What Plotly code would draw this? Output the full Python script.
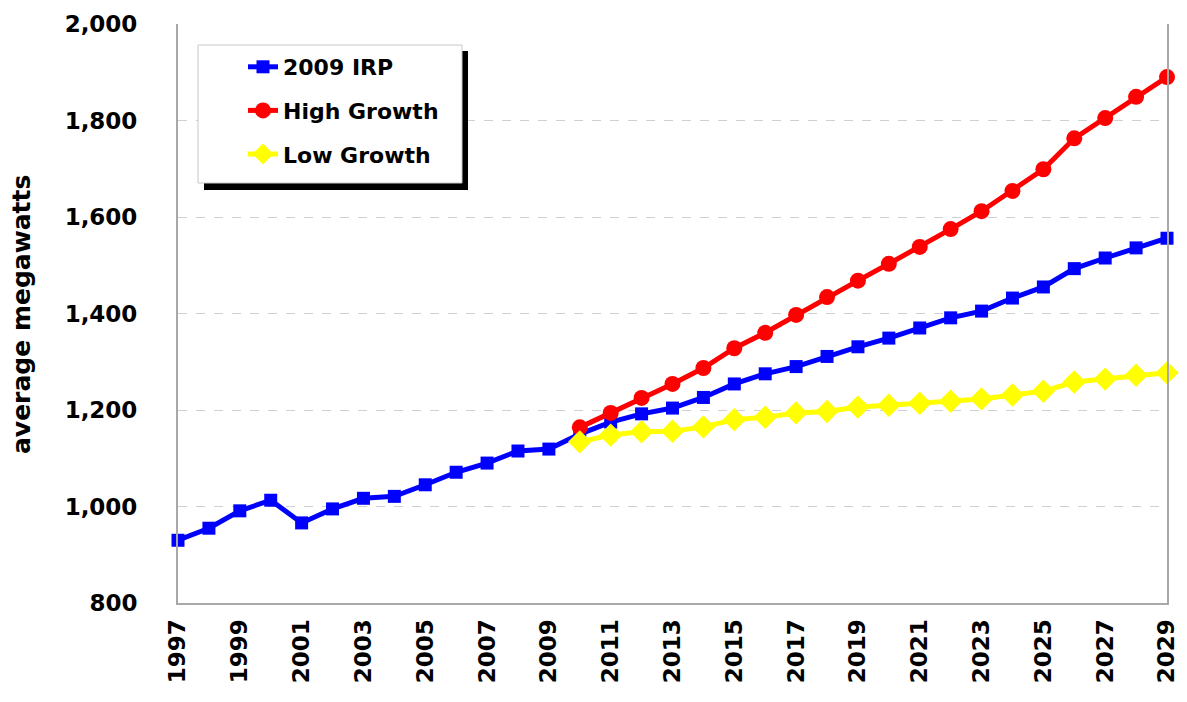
import plotly.graph_objects as go

# anos e valores (MWa)
anos = list(range(1997, 2030))
anos_cenarios = list(range(2010, 2030))

irp_2009 = [930, 955, 991, 1013, 966, 995, 1017, 1021, 1045, 1071, 1090, 1115, 1119,
            1150, 1175, 1192, 1204, 1226, 1254, 1275, 1290, 1311, 1331, 1349, 1370,
            1391, 1405, 1432, 1455, 1493, 1515, 1536, 1556]
alto = [1164, 1194, 1225, 1254, 1287, 1328, 1360, 1397, 1434, 1468, 1503, 1538,
        1575, 1612, 1654, 1699, 1763, 1805, 1849, 1890]
baixo = [1134, 1148, 1155, 1156, 1165, 1180, 1185, 1194, 1197, 1206, 1210, 1214,
         1218, 1223, 1231, 1239, 1258, 1264, 1272, 1277]

anos_ticks = list(range(1997, 2030, 2))

fonte = "DejaVu Sans"

# area do grafico em pixels (a pagina tem 8px de margem no body)
esq, topo, larg, alt = 170, 16, 989, 579


def px_x(p):
    return (p - 8 - esq) / larg


def px_y(p):
    return (topo + alt - (p - 8)) / alt


fig = go.Figure()
fig.add_trace(go.Scatter(
    x=anos, y=irp_2009, name="2009 IRP", mode="lines+markers",
    line=dict(color="#0000ff", width=5),
    marker=dict(symbol="square", size=13, color="#0000ff"),
    cliponaxis=False, legendgroup="a"
))
fig.add_trace(go.Scatter(
    x=anos_cenarios, y=alto, name="High Growth", mode="lines+markers",
    line=dict(color="#ff0000", width=5),
    marker=dict(symbol="circle", size=16, color="#ff0000"),
    cliponaxis=False, legendgroup="b"
))
fig.add_trace(go.Scatter(
    x=anos_cenarios, y=baixo, name="Low Growth", mode="lines+markers",
    line=dict(color="#ffff00", width=5),
    marker=dict(symbol="diamond", size=18, color="#ffff00"),
    cliponaxis=False, legendgroup="c"
))

# caixa da legenda com sombra
fig.add_shape(type="rect", xref="paper", yref="paper",
              x0=px_x(204), x1=px_x(468), y0=px_y(190), y1=px_y(51),
              fillcolor="black", line_width=0, layer="above")
fig.add_shape(type="rect", xref="paper", yref="paper",
              x0=px_x(198), x1=px_x(462), y0=px_y(183), y1=px_y(45),
              fillcolor="white", line=dict(color="#c8c8c8", width=1), layer="above")

# titulo do eixo y
fig.add_annotation(text="<b>average megawatts</b>", textangle=-90,
                   xref="paper", yref="paper", x=px_x(21), y=px_y(315),
                   xanchor="center", yanchor="middle",
                   showarrow=False, font=dict(family=fonte, size=25, color="black"))

fig.update_layout(
    width=1171, height=686,
    margin=dict(l=esq, r=1171 - esq - larg, t=topo, b=686 - topo - alt),
    plot_bgcolor="white", paper_bgcolor="white",
    font=dict(family=fonte, color="black"),
    legend=dict(
        x=px_x(243), y=px_y(46), xanchor="left", yanchor="top",
        bgcolor="rgba(0,0,0,0)", borderwidth=0,
        font=dict(family=fonte, size=22, color="black", weight="bold"),
        tracegroupgap=12, traceorder="grouped"
    ),
    xaxis=dict(
        range=[1997, 2029], tickvals=anos_ticks, tickangle=-90,
        tickfont=dict(family=fonte, size=23, color="black", weight="bold"),
        showgrid=False, zeroline=False, automargin=False,
        showline=True, linecolor="#a8a8a8", linewidth=2,
        ticks="", ticklabelstandoff=5, ticklabeloverflow="allow"
    ),
    yaxis=dict(
        range=[800, 2000], dtick=200, tickformat=",d",
        tickfont=dict(family=fonte, size=23, color="black", weight="bold"),
        showgrid=True, gridcolor="#d0d0d0", griddash="dash", gridwidth=1,
        zeroline=False, showline=True, linecolor="#a8a8a8", linewidth=2,
        mirror=True, ticks="", ticklabelstandoff=34, automargin=False,
        ticklabeloverflow="allow"
    ),
)

fig.write_html("out.html")
